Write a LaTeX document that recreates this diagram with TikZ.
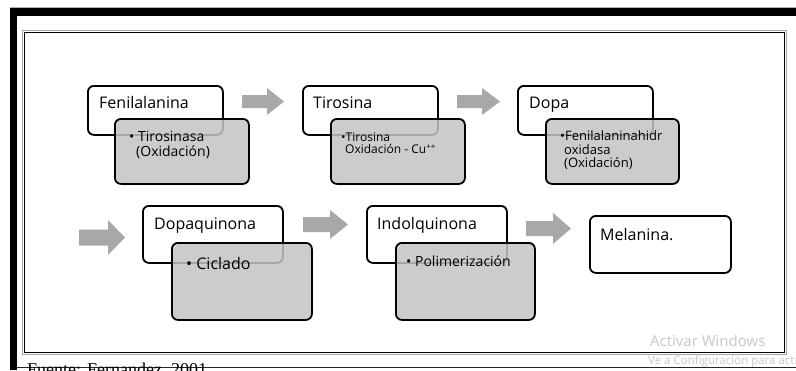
\documentclass[tikz,border=0pt]{standalone}
\usepackage{fontspec}
\setmainfont{Open Sans}
\newfontfamily\srfont{Liberation Serif}
\definecolor{arrowgray}{RGB}{168,168,168}
\definecolor{boxgray}{RGB}{196,196,196}
\definecolor{wmgray}{RGB}{200,200,200}
\newcommand\blkarrow[6]{%
  \fill[arrowgray] (#1,{(#3+#4)/2-#5}) -- (#6,{(#3+#4)/2-#5}) -- (#6,#3) -- (#2,{(#3+#4)/2}) -- (#6,#4) -- (#6,{(#3+#4)/2+#5}) -- (#1,{(#3+#4)/2+#5}) -- cycle;}
\begin{document}
\begin{tikzpicture}[x=1pt,y=-1pt,
  wbox/.style={draw=black, line width=1.8pt, rounded corners=6pt, fill=white, anchor=north west, inner sep=0pt},
  gbox/.style={draw=black, line width=1.8pt, rounded corners=6pt, fill=boxgray, fill opacity=0.85, draw opacity=1, text opacity=1, anchor=north west, inner sep=0pt},
  title/.style={anchor=base west, inner sep=0pt, font=\fontsize{16}{19}\selectfont},
  subA/.style={anchor=base west, inner sep=0pt, font=\fontsize{14}{16}\selectfont},
  subB/.style={anchor=base west, inner sep=0pt, font=\fontsize{12}{14}\selectfont},
  subC/.style={anchor=base west, inner sep=0pt, font=\fontsize{13}{15}\selectfont},
  wm/.style={anchor=base west, inner sep=0pt, text=wmgray}]
\clip (0,0) rectangle (796,370);
\fill[white] (0,0) rectangle (796,370);
% outer frame
\fill[black] (10,8) rectangle (796,16);
\fill[black] (10,8) rectangle (17,370);
\draw[gray!60, line width=0.8pt] (10,7.5) -- (796,7.5);
% inner frame
\draw[gray!70, line width=1pt] (22.5,30.5) rectangle (786.5,354.5);
\draw[black, line width=1.8pt] (24.5,32.5) rectangle (784.5,352.5);
% bottom line
\draw[black!85, line width=1.5pt] (17,367.5) -- (796,367.5);
\node[anchor=base west, inner sep=0pt, font=\srfont\fontsize{18}{20}\selectfont] (fuente) at (27,375) {Fuente: Fernandez, 2001};

% row 1
\node[wbox, minimum width=135pt, minimum height=49pt] (fen) at (87,85) {};
\node[title] (fent) at (99,108) {Fenilalanina};
\node[gbox, minimum width=134pt, minimum height=65pt] (feng) at (114,118) {};
\node[subA] (feng1) at (129,141) {•\ Tirosinasa};
\node[subA] (feng2) at (136,156) {(Oxidación)};

\node[wbox, minimum width=135pt, minimum height=49pt] (tir) at (302,85) {};
\node[title] (tirt) at (313,108) {Tirosina};
\node[gbox, minimum width=134pt, minimum height=65pt] (tirg) at (330,118) {};
\node[subB] (tirg1) at (341,141) {•Tirosina};
\node[subB] (tirg2) at (345,153.5) {Oxidación - Cu\textsuperscript{++}};

\node[wbox, minimum width=135pt, minimum height=49pt] (dopa) at (517,85) {};
\node[title] (dopat) at (529,108) {Dopa};
\node[gbox, minimum width=133pt, minimum height=65pt] (dopag) at (545,118) {};
\node[subC] (dopag1) at (560,140.5) {•Fenilalaninahidr};
\node[subC] (dopag2) at (564,154) {oxidasa};
\node[subC] (dopag3) at (564,167.5) {(Oxidación)};

% row 2
\node[wbox, minimum width=140pt, minimum height=57pt] (dq) at (142,205) {};
\node[title] (dqt) at (154,229.5) {Dopaquinona};
\node[gbox, minimum width=140pt, minimum height=77pt] (dqg) at (171,242) {};
\node[title] (dqg1) at (186,269.5) {•\ Ciclado};

\node[wbox, minimum width=140pt, minimum height=57pt] (iq) at (366,205) {};
\node[title] (iqt) at (377,229.5) {Indolquinona};
\node[gbox, minimum width=139pt, minimum height=77pt] (iqg) at (395,242) {};
\node[subA] (iqg1) at (406,266) {•\ Polimerización};

\node[wbox, minimum width=141pt, minimum height=57pt] (mel) at (589,215) {};
\node[title] (melt) at (600,240) {Melanina.};

% block arrows
\blkarrow{242}{284}{88}{115}{6.5}{267}
\blkarrow{457}{500}{88}{115}{6.5}{482}
\blkarrow{79}{125}{220}{255}{8}{108}
\blkarrow{303}{348}{210}{239}{7.5}{330}
\blkarrow{526}{571}{213}{244}{7.5}{553}

% watermark
\node[wm, font=\fontsize{15}{17}\selectfont] (wm1) at (650,346.5) {Activar Windows};
\node[wm, font=\fontsize{11.5}{13}\selectfont] (wm2) at (648,364) {Ve a Configuración para activar Windows.};
\end{tikzpicture}
\end{document}
